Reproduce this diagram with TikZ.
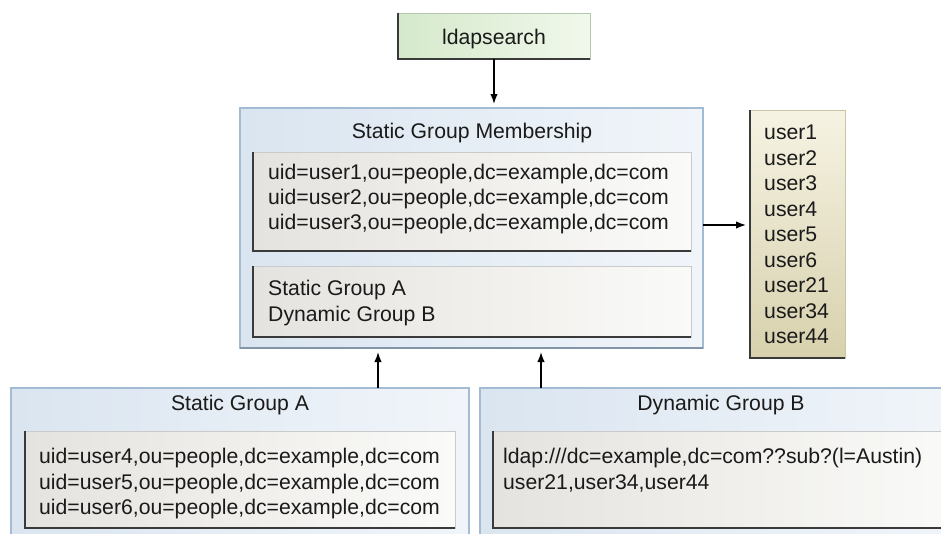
\documentclass[tikz,border=0pt]{standalone}
\usepackage{fontspec}
\setmainfont{Liberation Sans}
\usetikzlibrary{arrows.meta}
\definecolor{outerL}{HTML}{DAE5F0}
\definecolor{outerR}{HTML}{F1F5FA}
\definecolor{outerB}{HTML}{A3BCD4}
\definecolor{innerL}{HTML}{E5E3DF}
\definecolor{innerR}{HTML}{FAFAF8}
\definecolor{innerB}{HTML}{CACACA}
\definecolor{darkB}{HTML}{3A3A3A}
\definecolor{greenL}{HTML}{D5E9CB}
\definecolor{greenR}{HTML}{F1F8EC}
\definecolor{greenB}{HTML}{B5C8AE}
\definecolor{tanT}{HTML}{F6F3E3}
\definecolor{tanBt}{HTML}{D7D1AD}
\definecolor{tanB}{HTML}{C9C4A6}
\definecolor{txt}{HTML}{1A1A1A}
\begin{document}
\begin{tikzpicture}[x=1pt,y=-1pt,
  font=\fontsize{21.2}{25.5}\selectfont,
  box/.style={rectangle, inner sep=0pt, outer sep=0pt},
  outerbox/.style={box, draw=outerB, line width=1.2pt, left color=outerL, right color=outerR},
  innerbox/.style={box, draw=innerB, line width=1pt, left color=innerL, right color=innerR},
  greenbox/.style={box, draw=greenB, line width=1pt, left color=greenL, right color=greenR},
  tanbox/.style={box, draw=tanB, line width=1pt, top color=tanT, bottom color=tanBt},
  shade edge/.style={draw=darkB, line width=1.3pt},
  lbl/.style={inner sep=0pt, text height=15pt, text depth=0pt, anchor=west, text=txt},
  ttl/.style={inner sep=0pt, text height=15pt, text depth=0pt, text=txt},
  arr/.style={-{Latex[length=10pt,width=7.5pt]}, line width=1.5pt, black}]
\clip (0,0) rectangle (941,533);
\fill[white] (0,0) rectangle (941,533);

% ldapsearch
\node[greenbox, minimum width=192pt, minimum height=46pt] (ldap) at (494,36) {};
\draw[shade edge] (ldap.north west) -- (ldap.south west) -- (ldap.south east);
\node[ttl] (ldapt) at (494,37) {ldapsearch};

% Static Group Membership
\node[outerbox, minimum width=463pt, minimum height=240pt] (sgm) at (471.5,228) {};
\draw[draw=outerB!80!black, line width=1.3pt] (sgm.south west) -- (sgm.south east);
\node[ttl] (sgmt) at (472,131) {Static Group Membership};
\node[innerbox, minimum width=438pt, minimum height=99pt] (sgmdn) at (472,201.5) {};
\draw[shade edge] (sgmdn.north west) -- (sgmdn.south west) -- (sgmdn.south east);
\node[lbl] (s1) at (268,172) {uid=user1,ou=people,dc=example,dc=com};
\node[lbl] (s2) at (268,197) {uid=user2,ou=people,dc=example,dc=com};
\node[lbl] (s3) at (268,222) {uid=user3,ou=people,dc=example,dc=com};
\node[innerbox, minimum width=438pt, minimum height=71pt] (sgmgr) at (472,301.5) {};
\draw[shade edge] (sgmgr.north west) -- (sgmgr.south west) -- (sgmgr.south east);
\node[lbl] (g1) at (268,288) {Static Group A};
\node[lbl] (g2) at (268,314) {Dynamic Group B};

% users list
\node[tanbox, minimum width=95pt, minimum height=248pt] (users) at (797.5,234) {};
\draw[shade edge] (users.north west) -- (users.south west) -- (users.south east);
\foreach \u [count=\i from 0] in {user1,user2,user3,user4,user5,user6,user21,user34,user44}
  \node[lbl] (u\i) at (764,{132+25.5*\i}) {\u};

% Static Group A
\node[outerbox, minimum width=458pt, minimum height=172pt] (sga) at (240,474) {};
\node[ttl] (sgat) at (240,403) {Static Group A};
\node[innerbox, minimum width=430pt, minimum height=97pt] (sgadn) at (240,479.5) {};
\draw[shade edge] (sgadn.north west) -- (sgadn.south west) -- (sgadn.south east);
\node[lbl] (a1) at (39,456) {uid=user4,ou=people,dc=example,dc=com};
\node[lbl] (a2) at (39,482) {uid=user5,ou=people,dc=example,dc=com};
\node[lbl] (a3) at (39,507) {uid=user6,ou=people,dc=example,dc=com};

% Dynamic Group B
\node[outerbox, minimum width=480pt, minimum height=172pt] (dgb) at (720,474) {};
\node[ttl] (dgbt) at (721,403) {Dynamic Group B};
\node[innerbox, minimum width=462pt, minimum height=97pt] (dgbdn) at (724,479.5) {};
\draw[shade edge] (dgbdn.north west) -- (dgbdn.south west) -- (dgbdn.south east);
\node[lbl] (b1) at (503,456) {ldap:///dc=example,dc=com??sub?(l=Austin)};
\node[lbl] (b2) at (503,482) {user21,user34,user44};

% connectors
\draw[arr, shorten >=4pt] (ldap.south) -- (ldap.south |- sgm.north);
\draw[arr, shorten >=4pt] ([xshift=138pt]sga.north) -- ([xshift=138pt]sga.north |- sgm.south);
\draw[arr, shorten >=4pt] ([xshift=-179pt]dgb.north) -- ([xshift=-179pt]dgb.north |- sgm.south);
\draw[arr, shorten >=4pt] ([yshift=3pt]sgm.east) -- ([yshift=3pt]sgm.east -| users.west);
\end{tikzpicture}
\end{document}
